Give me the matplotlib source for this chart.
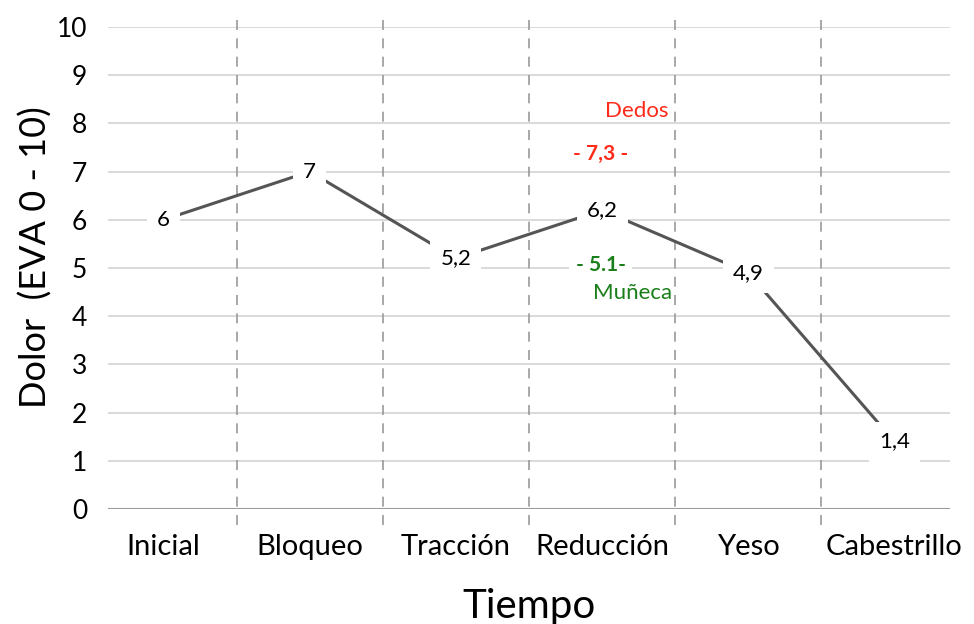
import matplotlib
matplotlib.use("Agg")
import matplotlib.pyplot as plt

plt.rcParams['font.family'] = ['Lato', 'DejaVu Sans']

categories = ["Inicial", "Bloqueo", "Tracción", "Reducción", "Yeso", "Cabestrillo"]
values = [6, 7, 5.2, 6.2, 4.9, 1.4]
yticks = list(range(0, 11))
dedos_value = "7,3"
muneca_value = "5.1"

fig = plt.figure(figsize=(9.74, 6.24), dpi=100)
ax = fig.add_axes([108/974, 1-509/624, (950-108)/974, (509-27)/624])

x = list(range(len(categories)))
ax.set_xlim(-0.38, 5.38)
ax.set_ylim(0, 10)

# gridlines
for yv in yticks[1:]:
    ax.axhline(yv, color='#d3d3d3', lw=1.2, zorder=0)
ax.axhline(0, color='#9a9a9a', lw=1.5, zorder=1)

# dashed separators
for k in range(1, len(categories)):
    ax.axvline(k - 0.5, ymin=-0.033, ymax=1.03, color='#9a9a9a', lw=1.2,
               ls=(0, (6, 5)), clip_on=False, zorder=1)

ax.plot(x, values, color='#555555', lw=2.2, zorder=2)

for xi, v in zip(x, values):
    s = f"{v:g}".replace('.', ',')
    ax.text(xi, v, s, ha='center', va='center', fontsize=16, color='black',
            zorder=3, bbox=dict(boxstyle='square,pad=0.45', fc='white', ec='none'))

red = '#ff2a1a'
green = '#1a7f1a'
ax.text(3.24, 8.26, "Dedos", ha='center', va='center', fontsize=16, color=red, zorder=3)
ax.text(2.99, 7.37, f"- {dedos_value} -", ha='center', va='center', fontsize=15,
        color=red, fontweight='bold', zorder=3)
ax.text(2.99, 5.06, f"- {muneca_value}-", ha='center', va='center', fontsize=15,
        color=green, fontweight='bold', zorder=3,
        bbox=dict(boxstyle='square,pad=0.3', fc='white', ec='none'))
ax.text(3.21, 4.48, "Muñeca", ha='center', va='center', fontsize=16,
        color=green, zorder=3)

ax.set_xticks(x)
ax.set_xticklabels(categories, fontsize=21)
ax.set_yticks(yticks)
ax.set_yticklabels([str(t) for t in yticks], fontsize=19)
ax.tick_params(axis='x', length=0, pad=18)
ax.tick_params(axis='y', length=0, pad=15)
for sp in ax.spines.values():
    sp.set_visible(False)

ax.set_xlabel("Tiempo", fontsize=29, labelpad=20)
ax.set_ylabel("Dolor  (EVA 0 - 10)", fontsize=26)
ax.yaxis.set_label_coords(-0.066, 0.523)

fig.savefig("out.png", dpi=100)
